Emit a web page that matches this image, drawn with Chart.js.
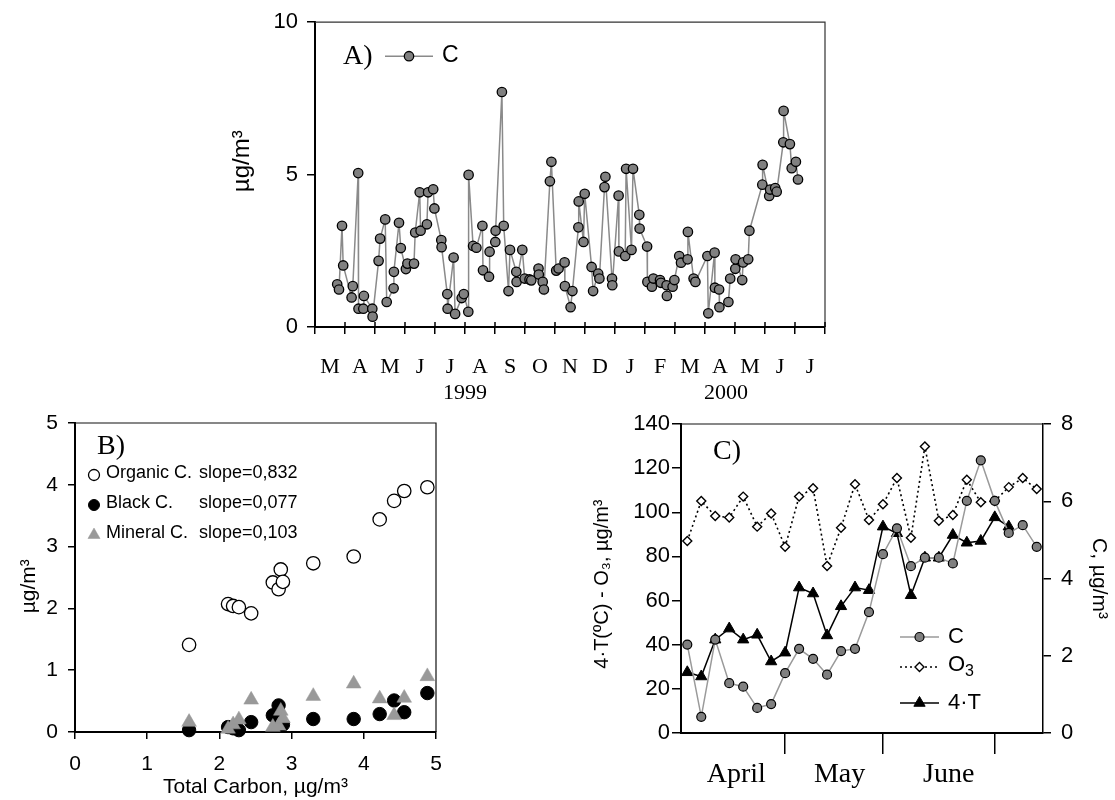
<!DOCTYPE html>
<html lang="en">
<head>
<meta charset="UTF-8">
<title>Carbon aerosol 1999-2000</title>
<style>
  body { margin: 0; background: #fff; width: 1115px; height: 800px; position: relative; overflow: hidden; }
  .panel { position: absolute; }
  .panel canvas { display: block; }
</style>
</head>
<body>
<div class="panel" style="left:200px; top:0px;"><canvas id="chartA" width="660" height="411"></canvas></div>
<div class="panel" style="left:0px; top:400px;"><canvas id="chartB" width="470" height="400"></canvas></div>
<div class="panel" style="left:560px; top:400px;"><canvas id="chartC" width="555" height="400"></canvas></div>

<script src="https://cdn.jsdelivr.net/npm/chart.js"></script>
<script>
// ---- A) carbon time series, x = months counted from 1 March 1999 ----
const sampleMonth = [
  0.74, 0.80, 0.90, 0.94, 1.22, 1.26, 1.44, 1.45, 1.61, 1.63, 1.91, 1.92, 2.12, 2.17, 2.34, 2.39,
  2.62, 2.63, 2.80, 2.86, 3.03, 3.08, 3.30, 3.34, 3.49, 3.52, 3.73, 3.77, 3.94, 3.98, 4.21, 4.22,
  4.41, 4.42, 4.62, 4.67, 4.89, 4.96, 5.11, 5.12, 5.27, 5.38, 5.58, 5.60, 5.80, 5.82, 6.01, 6.02,
  6.23, 6.29, 6.45, 6.50, 6.71, 6.72, 6.91, 6.99, 7.15, 7.21, 7.45, 7.46, 7.59, 7.63, 7.83, 7.88,
  8.04, 8.12, 8.32, 8.33, 8.52, 8.58, 8.78, 8.79, 8.95, 8.99, 9.22, 9.27, 9.44, 9.48, 9.65, 9.68,
  9.90, 9.91, 10.12, 10.13, 10.34, 10.37, 10.55, 10.60, 10.81, 10.82, 11.07, 11.08, 11.23, 11.28,
  11.50, 11.53, 11.72, 11.73, 11.92, 11.98, 12.14, 12.20, 12.42, 12.43, 12.62, 12.68, 13.08, 13.11,
  13.32, 13.33, 13.47, 13.48, 13.78, 13.84, 14.01, 14.02, 14.24, 14.27, 14.44, 14.48, 14.91, 14.92,
  15.14, 15.17, 15.34, 15.39, 15.61, 15.62, 15.83, 15.89, 16.03, 16.10
];
const carbon = [
  1.40, 1.23, 3.32, 2.02, 0.97, 1.34, 5.05, 0.60, 0.60, 1.02, 0.60, 0.34, 2.17, 2.90, 3.53, 0.82,
  1.27, 1.81, 3.42, 2.59, 1.90, 2.08, 2.08, 3.10, 4.42, 3.16, 3.37, 4.42, 4.52, 3.89, 2.85, 2.62,
  1.08, 0.60, 2.28, 0.43, 0.95, 1.08, 0.50, 4.99, 2.66, 2.60, 3.32, 1.86, 1.65, 2.47, 2.79, 3.16,
  7.71, 3.32, 1.18, 2.53, 1.81, 1.48, 2.53, 1.59, 1.56, 1.53, 1.92, 1.72, 1.48, 1.23, 4.78, 5.42,
  1.85, 1.92, 2.12, 1.34, 0.65, 1.18, 3.27, 4.12, 2.79, 4.37, 1.97, 1.18, 1.75, 1.59, 4.59, 4.93,
  1.59, 1.37, 4.31, 2.48, 2.33, 5.19, 2.53, 5.19, 3.68, 3.23, 2.64, 1.48, 1.32, 1.59,
  1.54, 1.45, 1.37, 1.02, 1.32, 1.54, 2.33, 2.11, 2.22, 3.12, 1.59, 1.48, 2.33, 0.45,
  2.44, 1.29, 1.23, 0.65, 0.82, 1.59, 1.91, 2.22, 1.54, 2.12, 2.22, 3.16, 4.67, 5.32,
  4.30, 4.51, 4.56, 4.44, 6.06, 7.09, 6.00, 5.21, 5.42, 4.84
];
const monthLabels = ['M', 'A', 'M', 'J', 'J', 'A', 'S', 'O', 'N', 'D', 'J', 'F', 'M', 'A', 'M', 'J', 'J'];
const yearLabels = ['1999', '2000'];
const yearPos = [5, 13.7];

// ---- B) carbon fractions against total carbon ----
const totalCarbon = [1.58, 2.12, 2.19, 2.27, 2.44, 2.74, 2.82, 2.85, 2.88, 3.30, 3.86, 4.22, 4.42, 4.56, 4.88];
const organicC   = [1.41, 2.07, 2.04, 2.02, 1.92, 2.42, 2.31, 2.63, 2.43, 2.73, 2.84, 3.44, 3.74, 3.90, 3.96];
const blackC     = [0.03, 0.08, 0.06, 0.03, 0.16, 0.27, 0.43, 0.16, 0.12, 0.21, 0.21, 0.29, 0.51, 0.32, 0.63];
const mineralC   = [0.16, 0.05, 0.12, 0.20, 0.52, 0.08, 0.10, 0.34, 0.22, 0.58, 0.78, 0.54, 0.27, 0.55, 0.90];
const fractionNames = ['Organic C.', 'Black C.', 'Mineral C.'];
const slopes = ['0,832', '0,077', '0,103'];

// ---- C) spring 2000: C (right axis), O3 and 4*T (left axis), x = sample index ----
const springC = [2.29, 0.42, 2.42, 1.29, 1.20, 0.65, 0.75, 1.55, 2.18, 1.92, 1.51, 2.12, 2.18,
                 3.13, 4.63, 5.30, 4.32, 4.54, 4.54, 4.39, 6.01, 7.06, 6.01, 5.18, 5.38, 4.82];
const ozone = [87.0, 105.1, 98.3, 97.6, 107.1, 93.5, 99.5, 84.4, 107.1, 110.9, 75.7, 93.0, 112.7,
               96.5, 103.6, 115.5, 88.5, 129.8, 96.2, 98.8, 114.7, 104.5, 105.1, 111.4, 115.5, 110.5];
const temp4 = [27.5, 25.6, 42.3, 47.3, 42.3, 44.5, 32.4, 36.4, 65.9, 63.2, 44.2, 57.4, 65.9,
               64.7, 93.5, 90.5, 62.4, 79.4, 79.4, 89.7, 86.2, 87.0, 97.7, 93.5];
const springMonths = ['April', 'May', 'June'];
const springLabelPos = [3.5, 10.9, 18.7];
const monthStarts = [7, 14, 22];

const SANS = '"Liberation Sans", Arial, sans-serif';
const SERIF = '"Liberation Serif", "Times New Roman", serif';
Chart.defaults.font.family = SANS;
Chart.defaults.color = '#000';

const byIndex = arr => arr.map((v, i) => ({x: i, y: v}));
const pairs = (xs, ys) => ys.map((y, i) => ({x: xs[i], y: y}));
const fixedTicks = values => scale => { scale.ticks = values.map(v => ({value: v})); };
const setHeight = h => scale => { scale.height = h; };
const setWidth = w => scale => { scale.width = w; };

// top / right edges of the plot box
const frame = {
  id: 'frame',
  beforeDatasetsDraw(chart, args, opts) {
    const {ctx, chartArea: a} = chart;
    ctx.save();
    ctx.strokeStyle = opts.color || '#222';
    ctx.lineWidth = opts.width || 1.2;
    ctx.beginPath();
    ctx.moveTo(a.left, a.top);
    ctx.lineTo(a.right, a.top);
    if (opts.right !== false) ctx.lineTo(a.right, a.bottom);
    ctx.stroke();
    ctx.restore();
  }
};

// part of the x ticks that pokes up into the plot
const innerTicks = {
  id: 'innerTicks',
  afterDatasetsDraw(chart, args, opts) {
    if (!opts.scale) return;
    const s = chart.scales[opts.scale];
    const ctx = chart.ctx;
    ctx.save();
    ctx.strokeStyle = '#000';
    ctx.lineWidth = 1.5;
    ctx.beginPath();
    s.ticks.forEach((t, i) => {
      const x = s.getPixelForTick(i);
      ctx.moveTo(x, s.top);
      ctx.lineTo(x, s.top - opts.length);
    });
    ctx.stroke();
    ctx.restore();
  }
};

// panel letters and hand-placed legends
const notes = {
  id: 'notes',
  afterDraw(chart, args, opts) {
    const {ctx, chartArea: a} = chart;
    ctx.save();
    (opts.samples || []).forEach(k => {
      const ds = chart.data.datasets[k.dataset];
      const x0 = a.left + k.dx, y = a.top + k.dy;
      const line = k.line || 0;
      if (line) {
        ctx.strokeStyle = ds.borderColor;
        ctx.lineWidth = ds.borderWidth;
        ctx.setLineDash(ds.borderDash || []);
        ctx.beginPath();
        ctx.moveTo(x0, y);
        ctx.lineTo(x0 + line, y);
        ctx.stroke();
        ctx.setLineDash([]);
      }
      ctx.fillStyle = ds.pointBackgroundColor;
      ctx.strokeStyle = ds.pointBorderColor;
      ctx.lineWidth = ds.pointBorderWidth;
      Chart.helpers.drawPoint(ctx, {
        pointStyle: ds.pointStyle || 'circle',
        radius: k.radius || ds.pointRadius,
        rotation: 0,
        borderWidth: ds.pointBorderWidth
      }, x0 + line / 2, y);
    });
    ctx.fillStyle = '#000';
    ctx.textAlign = 'left';
    ctx.textBaseline = 'middle';
    (opts.texts || []).forEach(t => {
      const x = a.left + t.dx, y = a.top + t.dy;
      ctx.font = t.font;
      ctx.fillText(t.text, x, y);
      if (t.sub) {
        const w = ctx.measureText(t.text).width;
        ctx.font = t.subFont;
        ctx.fillText(t.sub, x + w, y + t.subDy);
      }
    });
    ctx.restore();
  }
};

const blackGrid = len => ({drawOnChartArea: false, color: '#000', lineWidth: 1.5, tickLength: len});
const axisBorder = {color: '#000', width: 2};
const noLines = {display: false, drawTicks: false};
const common = {
  responsive: false,
  animation: false,
  events: [],
  devicePixelRatio: 1
};

// ---------- A ----------
new Chart(document.getElementById('chartA'), {
  type: 'line',
  data: {
    datasets: [{
      label: 'C',
      data: pairs(sampleMonth, carbon),
      borderColor: '#8a8a8a',
      borderWidth: 1.5,
      pointStyle: 'circle',
      pointRadius: 4.7,
      pointBackgroundColor: '#808080',
      pointBorderColor: '#000',
      pointBorderWidth: 1.3,
      tension: 0,
      clip: false
    }]
  },
  plugins: [frame, innerTicks, notes],
  options: {
    ...common,
    layout: {padding: {top: 21, right: 35, left: 0, bottom: 0}},
    scales: {
      x: {
        type: 'linear', position: 'bottom', weight: 0, min: 0, max: 17,
        ticks: {display: false, stepSize: 1, autoSkip: false},
        grid: blackGrid(7), border: axisBorder,
        afterFit: setHeight(7)
      },
      months: {
        type: 'linear', position: 'bottom', weight: 1, min: 0, max: 17,
        afterBuildTicks: fixedTicks(monthLabels.map((m, i) => i + 0.5)),
        ticks: {autoSkip: false, maxRotation: 0, padding: 20,
                font: {family: SERIF, size: 22}, callback: (v, i) => monthLabels[i]},
        grid: noLines, border: {display: false},
        afterFit: setHeight(45)
      },
      years: {
        type: 'linear', position: 'bottom', weight: 2, min: 0, max: 17,
        afterBuildTicks: fixedTicks(yearPos),
        ticks: {autoSkip: false, maxRotation: 0, padding: 1,
                font: {family: SERIF, size: 22}, callback: (v, i) => yearLabels[i]},
        grid: noLines, border: {display: false},
        afterFit: setHeight(32)
      },
      y: {
        type: 'linear', position: 'left', min: 0, max: 10,
        ticks: {stepSize: 5, padding: 9, font: {size: 22}},
        grid: blackGrid(8), border: axisBorder,
        title: {display: true, text: '    µg/m³', font: {size: 24}, padding: {top: 28, bottom: 0}},
        afterFit: setWidth(115)
      }
    },
    plugins: {
      legend: {display: false},
      tooltip: {enabled: false},
      frame: {color: '#333', width: 1.2},
      innerTicks: {scale: 'x', length: 5},
      notes: {
        samples: [{dataset: 0, dx: 70, dy: 34, line: 48}],
        texts: [
          {text: 'A)', dx: 28, dy: 34, font: '28px ' + SERIF},
          {text: 'C', dx: 127, dy: 33, font: '23px ' + SANS}
        ]
      }
    }
  }
});

// ---------- B ----------
new Chart(document.getElementById('chartB'), {
  type: 'scatter',
  data: {
    datasets: [{
      label: fractionNames[0],
      data: pairs(totalCarbon, organicC),
      order: 2,
      pointStyle: 'circle', pointRadius: 6.7,
      pointBackgroundColor: '#fff', pointBorderColor: '#000', pointBorderWidth: 1.3,
      clip: false
    }, {
      label: fractionNames[1],
      data: pairs(totalCarbon, blackC),
      order: 1,
      pointStyle: 'circle', pointRadius: 6.7,
      pointBackgroundColor: '#000', pointBorderColor: '#000', pointBorderWidth: 1,
      clip: false
    }, {
      label: fractionNames[2],
      data: pairs(totalCarbon, mineralC),
      order: 0,
      pointStyle: 'triangle', pointRadius: 8.5,
      pointBackgroundColor: '#999', pointBorderColor: '#999', pointBorderWidth: 0.5,
      clip: false
    }]
  },
  plugins: [frame, notes],
  options: {
    ...common,
    layout: {padding: {top: 23, right: 34, left: 0, bottom: 0}},
    scales: {
      x: {
        type: 'linear', position: 'bottom', min: 0, max: 5,
        ticks: {stepSize: 1, padding: 13, font: {size: 21}},
        grid: blackGrid(7), border: axisBorder,
        title: {display: true, text: 'Total Carbon, µg/m³', font: {size: 21}, padding: {top: 0, bottom: 0}},
        afterFit: setHeight(68)
      },
      y: {
        type: 'linear', position: 'left', min: 0, max: 5,
        ticks: {stepSize: 1, padding: 10, font: {size: 21}},
        grid: blackGrid(7), border: axisBorder,
        title: {display: true, text: 'µg/m³   ', font: {size: 21}, padding: {top: 17, bottom: 0}},
        afterFit: setWidth(75)
      }
    },
    plugins: {
      legend: {display: false},
      tooltip: {enabled: false},
      frame: {color: '#111', width: 1.2},
      notes: {
        samples: [
          {dataset: 0, dx: 19, dy: 52, radius: 5.5},
          {dataset: 1, dx: 19, dy: 82, radius: 5.5},
          {dataset: 2, dx: 19, dy: 112, radius: 7}
        ],
        texts: [{text: 'B)', dx: 22, dy: 24, font: '28px ' + SERIF}]
          .concat(fractionNames.map((n, i) => ({text: n, dx: 31, dy: 50 + 30 * i, font: '18px ' + SANS})))
          .concat(slopes.map((s, i) => ({text: 'slope=' + s, dx: 124, dy: 50 + 30 * i, font: '18px ' + SANS})))
      }
    }
  }
});

// ---------- C ----------
new Chart(document.getElementById('chartC'), {
  type: 'line',
  data: {
    datasets: [{
      label: 'C',
      data: byIndex(springC),
      yAxisID: 'y1',
      borderColor: '#9a9a9a', borderWidth: 1.5,
      pointStyle: 'circle', pointRadius: 4.5,
      pointBackgroundColor: '#808080', pointBorderColor: '#000', pointBorderWidth: 1.2,
      tension: 0, clip: false
    }, {
      label: 'O3',
      data: byIndex(ozone),
      yAxisID: 'y',
      borderColor: '#000', borderWidth: 1.6, borderDash: [2, 3],
      pointStyle: 'rectRot', pointRadius: 4.5,
      pointBackgroundColor: '#fff', pointBorderColor: '#000', pointBorderWidth: 1.4,
      tension: 0, clip: false
    }, {
      label: '4·T',
      data: byIndex(temp4),
      yAxisID: 'y',
      borderColor: '#000', borderWidth: 1.5,
      pointStyle: 'triangle', pointRadius: 6.5,
      pointBackgroundColor: '#000', pointBorderColor: '#000', pointBorderWidth: 1,
      tension: 0, clip: false
    }]
  },
  plugins: [frame, notes],
  options: {
    ...common,
    layout: {padding: {top: 24, right: 0, left: 0, bottom: 0}},
    scales: {
      x: {
        type: 'linear', position: 'bottom', weight: 0, min: -0.45, max: 25.45,
        afterBuildTicks: fixedTicks(monthStarts),
        ticks: {display: false, autoSkip: false},
        grid: blackGrid(21), border: axisBorder,
        afterFit: setHeight(22)
      },
      xMonths: {
        type: 'linear', position: 'bottom', weight: 1, min: -0.45, max: 25.45,
        afterBuildTicks: fixedTicks(springLabelPos),
        ticks: {autoSkip: false, maxRotation: 0, padding: 3,
                font: {family: SERIF, size: 28}, callback: (v, i) => springMonths[i]},
        grid: noLines, border: {display: false},
        afterFit: setHeight(45)
      },
      y: {
        type: 'linear', position: 'left', min: 0, max: 140,
        ticks: {stepSize: 20, padding: 2, font: {size: 22}},
        grid: blackGrid(9), border: axisBorder,
        title: {display: true, text: '4·T(ºC) - O₃, µg/m³  ', font: {size: 20}, padding: {top: 30, bottom: 0}},
        afterFit: setWidth(121)
      },
      y1: {
        type: 'linear', position: 'right', min: 0, max: 8,
        ticks: {stepSize: 2, padding: 10, font: {size: 22}},
        grid: blackGrid(8), border: {color: '#000', width: 1.5},
        title: {display: true, text: 'C, µg/m³', font: {size: 21}, padding: {top: 4, bottom: 0}},
        afterFit: setWidth(72)
      }
    },
    plugins: {
      legend: {display: false},
      tooltip: {enabled: false},
      frame: {color: '#111', width: 1.2, right: false},
      notes: {
        samples: [
          {dataset: 0, dx: 219, dy: 213, line: 39},
          {dataset: 1, dx: 219, dy: 243, line: 39},
          {dataset: 2, dx: 219, dy: 279, line: 39}
        ],
        texts: [
          {text: 'C)', dx: 32, dy: 28, font: '28px ' + SERIF},
          {text: 'C', dx: 267, dy: 213, font: '22px ' + SANS},
          {text: 'O', dx: 267, dy: 241, font: '22px ' + SANS, sub: '3', subFont: '16px ' + SANS, subDy: 7},
          {text: '4·T', dx: 267, dy: 279, font: '22px ' + SANS}
        ]
      }
    }
  }
});
</script>
</body>
</html>
